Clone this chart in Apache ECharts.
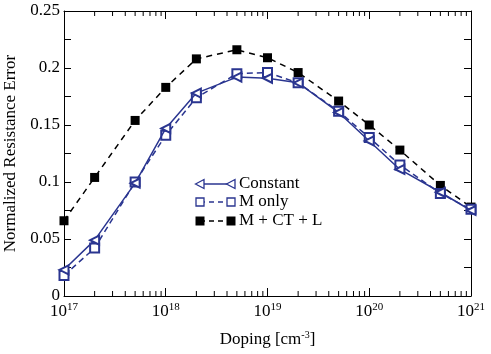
<!DOCTYPE html>
<html>
<head>
<meta charset="utf-8">
<script src="https://cdn.jsdelivr.net/npm/echarts@6/dist/echarts.min.js"></script>
<style>html,body{margin:0;padding:0;background:#fff}#c{width:491px;height:354px}</style>
</head>
<body>
<div id="c"></div>
<script>
const doping = [1e17, 2e17, 5e17, 1e18, 2e18, 5e18, 1e19, 2e19, 5e19, 1e20, 2e20, 5e20, 1e21];
const constant = [0.023, 0.049, 0.099, 0.147, 0.178, 0.192, 0.191, 0.187, 0.161, 0.136, 0.111, 0.091, 0.075];
const mOnly = [0.018, 0.042, 0.100, 0.141, 0.174, 0.195, 0.196, 0.187, 0.162, 0.139, 0.115, 0.090, 0.076];
const mCtL = [0.066, 0.104, 0.154, 0.183, 0.208, 0.216, 0.209, 0.196, 0.171, 0.150, 0.128, 0.097, 0.078];
const seriesNames = ['Constant', 'M only', 'M + CT + L'];
const yTicks = [0, 0.05, 0.1, 0.15, 0.2, 0.25];

const BLUE = '#2a3590';
const FONT = '"Liberation Serif", "DejaVu Serif", serif';

// minor tick values for the log axis (2..9 x each decade)
const minorVals = [];
for (let e = 17; e < 21; e++) for (let m = 2; m <= 9; m++) minorVals.push([m * Math.pow(10, e), 0.1]);

const pair = (ys) => doping.map((x, i) => [x, ys[i]]);

const chart = echarts.init(document.getElementById('c'), null, {renderer: 'canvas'});

function legendRow(y, kind, color, dashed, label) {
  const x1 = 200, x2 = 231;
  const els = [{
    type: 'line', shape: {x1: x1, y1: y, x2: x2, y2: y},
    style: {stroke: color, lineWidth: 1.5, lineDash: dashed ? [5, 4] : null}
  }];
  [x1, x2].forEach(cx => {
    if (kind === 'tri') {
      els.push({type: 'polygon', shape: {points: [[cx - 4.5, y], [cx + 4, y - 4.5], [cx + 4, y + 4.5]]},
        style: {fill: '#fff', stroke: color, lineWidth: 1.3}});
    } else if (kind === 'sq') {
      els.push({type: 'rect', shape: {x: cx - 4, y: y - 4, width: 8, height: 8},
        style: {fill: '#fff', stroke: color, lineWidth: 1.3}});
    } else {
      els.push({type: 'rect', shape: {x: cx - 4.5, y: y - 4.5, width: 9, height: 9},
        style: {fill: color, stroke: color, lineWidth: 0}});
    }
  });
  els.push({type: 'text', x: 239, y: y, style: {text: label, font: '17px ' + FONT, fill: '#000', textVerticalAlign: 'middle'}});
  return els;
}

const axisLineStyle = {show: true, onZero: false, lineStyle: {color: '#000', width: 1}};

const option = {
  animation: false,
  backgroundColor: '#fff',
  grid: {left: 64, right: 20, top: 11, bottom: 58, containLabel: false, outerBoundsMode: 'none'},
  xAxis: [{
    type: 'log', logBase: 10, min: 1e17, max: 1e21, interval: 1,
    axisLine: axisLineStyle,
    axisTick: {inside: true, length: 8, lineStyle: {color: '#000'}},
    splitLine: {show: false},
    axisLabel: {
      margin: 6,
      formatter: v => '{b|10}{s|' + Math.round(Math.log10(v)) + '}',
      rich: {
        b: {fontFamily: FONT, fontSize: 17, color: '#000'},
        s: {fontFamily: FONT, fontSize: 11, color: '#000', padding: [0, 0, 9, 0]}
      }
    },
    name: '{n|Doping [cm}{s|-3}{n|]}',
    nameLocation: 'middle', nameGap: 34,
    nameTextStyle: {
      rich: {
        n: {fontFamily: FONT, fontSize: 17, color: '#000'},
        s: {fontFamily: FONT, fontSize: 10, color: '#000', padding: [0, 0, 9, 0]}
      }
    }
  }, {
    type: 'log', logBase: 10, min: 1e17, max: 1e21, interval: 1, position: 'top',
    axisLine: axisLineStyle,
    axisTick: {inside: true, length: 8, lineStyle: {color: '#000'}},
    axisLabel: {show: false}, splitLine: {show: false}
  }],
  yAxis: [{
    type: 'value', min: 0, max: 0.25, interval: 0.05,
    axisLine: axisLineStyle,
    axisTick: {show: true, inside: true, length: 7, lineStyle: {color: '#000'}},
    minorTick: {show: true, splitNumber: 2, length: 7, lineStyle: {color: '#000'}},
    splitLine: {show: false},
    axisLabel: {fontFamily: FONT, fontSize: 17, color: '#000', margin: 4,
      formatter: v => String(Math.round(v * 100) / 100)},
    name: 'Normalized Resistance Error', nameLocation: 'middle', nameGap: 40,
    nameTextStyle: {fontFamily: FONT, fontSize: 17, color: '#000'}
  }, {
    type: 'value', min: 0, max: 0.25, interval: 0.05, position: 'right',
    axisLine: axisLineStyle,
    axisTick: {show: true, inside: true, length: 7, lineStyle: {color: '#000'}},
    minorTick: {show: true, splitNumber: 2, length: 7, lineStyle: {color: '#000'}},
    splitLine: {show: false}, axisLabel: {show: false}
  }],
  series: [{
    type: 'custom', name: 'minorTicks', silent: true, z: 10,
    data: minorVals,
    renderItem: (params, api) => {
      const p = api.coord([api.value(0), api.value(1)]);
      const cs = params.coordSys;
      const yb = cs.y + cs.height, yt = cs.y;
      return {type: 'group', children: [
        {type: 'line', shape: {x1: p[0], y1: yb, x2: p[0], y2: yb - 5}, style: {stroke: '#000', lineWidth: 1}},
        {type: 'line', shape: {x1: p[0], y1: yt, x2: p[0], y2: yt + 5}, style: {stroke: '#000', lineWidth: 1}}
      ]};
    }
  }, {
    name: seriesNames[2], type: 'line', data: pair(mCtL),
    symbol: 'rect', symbolSize: 9,
    lineStyle: {color: '#000', width: 1.5, type: [6, 5]},
    itemStyle: {color: '#000'}, z: 3
  }, {
    name: seriesNames[1], type: 'line', data: pair(mOnly),
    symbol: 'emptyRect', symbolSize: 9,
    lineStyle: {color: BLUE, width: 1.5, type: [6, 4]},
    itemStyle: {color: BLUE, borderWidth: 1.3}, z: 4
  }, {
    name: seriesNames[0], type: 'line', data: pair(constant),
    symbol: 'emptyTriangle', symbolSize: 9, symbolRotate: 90,
    lineStyle: {color: BLUE, width: 1.5},
    itemStyle: {color: BLUE, borderWidth: 1.3}, z: 5
  }],
  graphic: [].concat(
    legendRow(184, 'tri', BLUE, false, seriesNames[0]),
    legendRow(202, 'sq', BLUE, true, seriesNames[1]),
    legendRow(221, 'fill', '#000', true, seriesNames[2])
  )
};
chart.setOption(option);
</script>
</body>
</html>
